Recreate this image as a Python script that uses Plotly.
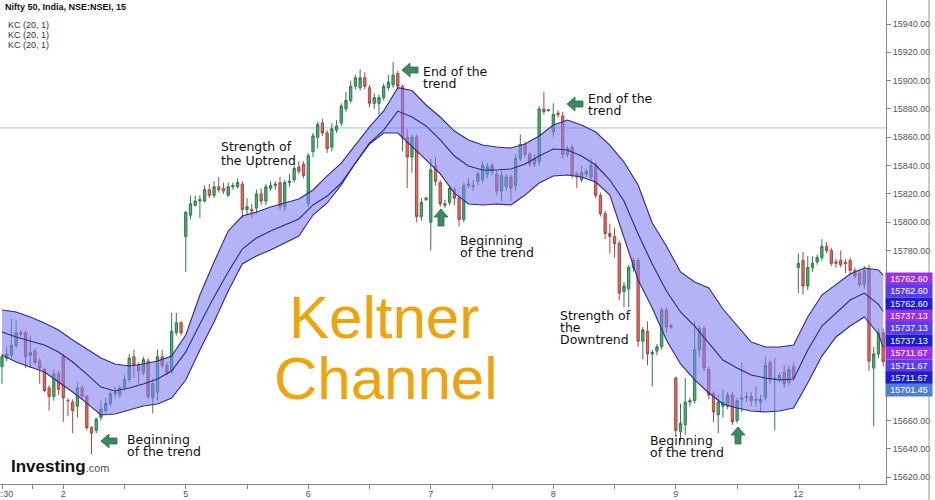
import plotly.graph_objects as go

# ---------------- data (15-min bars, NSE:NSEI) ----------------
day_labels = ["12:30", "", "2", "", "5", "", "6", "", "7", "", "8", "", "9", "", "12", ""]
day_ticks = [0, 6.5, 13, 26, 39, 52, 65, 78, 91, 104, 117, 130, 143, 156, 169, 182]

opens = [15698,15704,15706,15713,15722,15722,15706,15709,15702,15696,15683,15677,15693,15705,15674,15673,15670,15683,15677,15655,
         15653,15662,15667,15672,15679,15678,15683,15689,15705,15699,15694,15702,15676,15680,15705,15699,15695,15722,15729,15790,
         15805,15812,15815,15815,15823,15819,15825,15824,15819,15825,15825,15827,15809,15809,15810,15820,15815,15824,15826,15828,
         15811,15828,15830,15839,15841,15813,15850,15860,15870,15863,15853,15865,15870,15880,15886,15896,15895,15902,15895,15884,
         15884,15888,15895,15897,15905,15896,15860,15846,15860,15804,15816,15800,15840,15828,15812,15814,15823,15817,15802,15826,
         15826,15829,15830,15834,15836,15834,15822,15825,15832,15826,15845,15855,15848,15841,15843,15880,15879.5,15864,15877,15875,
         15848,15853,15834,15830,15836,15832,15840,15819,15806,15792,15790,15785,15751,15753,15768,15773,15716,15723,15707,15709,
         15712,15738,15727,15690,15652,15657,15673,15674,15710,15725,15696,15679,15664,15670,15670,15678,15660,15675,15676,15677,
         15674,15673,15676,15701,15689,15689,15694,15687,15698,15768,15773,15755,15768,15772,15775,15783,15780,15772,15773,15771.5,
         15773,15766,15764,15756,15767,15697,15707,15722]
highs = [15707,15712,15732,15731,15724,15724,15720,15711,15704,15697,15685,15696,15695,15707,15676,15675,15687,15685,15678,15656,
         15662,15674,15676,15681,15684,15685,15692,15707,15710,15701,15705,15704,15690,15710,15710,15701,15736,15736,15730,15808,
         15819,15819,15819,15826,15827,15829,15832,15828,15828,15828,15831,15829,15817,15813,15823,15824,15827,15829,15829,15832,
         15830,15834,15840,15843,15843,15849,15863,15871,15873,15865,15870,15872,15884,15892,15900,15904,15908,15906,15897,15891,
         15890,15898,15904,15913,15907,15897,15866,15862,15862,15817,15818,15845,15846,15830,15816,15826,15825,15819,15828,15831,
         15830,15836,15843,15842,15842,15836,15836,15834,15834,15848,15862,15857,15850,15848,15882,15892,15880,15884,15879,15878,
         15854,15855,15836,15840,15838,15845,15842,15821,15808,15799,15796,15787,15758,15770,15775,15775,15726,15730,15710,15714,
         15740,15740,15728,15691,15672,15690,15676,15730,15727,15727,15698,15681,15678,15682,15680,15680,15676,15701,15680,15680,
         15684,15678,15705,15703,15704,15694,15699,15699,15701,15778,15779,15776,15776,15777,15788,15786,15782,15774,15780,15774,
         15775,15768,15766,15769,15770,15712,15725,15725]
lows = [15686,15702,15704,15711,15719,15697,15697,15699,15686,15680,15667,15674,15678,15659,15663,15651,15662,15675,15653,15636,
        15651,15660,15665,15670,15676,15676,15681,15687,15690,15686,15692,15675,15665,15674,15697,15692,15693,15720,15720,15765,
        15802,15811,15803,15814,15817,15817,15821,15820,15818,15823,15824,15803,15805,15803,15806,15812,15812,15822,15823,15809,
        15808,15825,15828,15834,15831,15811,15846,15852,15861,15849,15850,15863,15868,15878,15884,15894,15893,15894,15881,15880,
        15876,15886,15893,15895,15894,15850,15824,15835,15800,15801,15815,15780,15826,15811,15810,15812,15812,15797,15800,15824,
        15822,15826,15828,15831,15833,15819,15815,15822,15815,15822,15843,15846,15839,15839,15840,15876,15878,15860,15874,15845,
        15846,15831,15824,15828,15832,15830,15817,15804,15788,15778,15775,15745,15740,15740,15765,15712,15703,15699,15684,15706,
        15710,15722,15725,15649,15645,15650,15670,15672,15705,15695,15675,15659,15651,15662,15668,15657,15658,15666,15673,15670,
        15670,15666,15674,15686,15653,15687,15683,15685,15688,15750,15749,15752,15765,15770,15773,15778,15769,15768,15768,15764,
        15763,15760,15754,15753,15695,15656,15704,15698]
closes = [15705,15707,15713,15722,15721,15705,15708,15701,15697,15681,15677,15693,15682,15676,15674,15667,15683,15677,15655,15651,
          15661,15668,15672,15679,15680,15683,15689,15704,15699,15695,15703,15677,15686,15705,15699,15694,15723,15729,15722,15807,
          15813,15815,15816,15823,15819,15825,15823,15822,15825,15826,15828,15809,15811,15808,15820,15815,15825,15826,15827,15811,
          15828,15829,15838,15836,15833,15847,15861,15869,15863,15852,15866,15868,15882,15886,15896,15902,15902,15896,15884,15888,
          15888,15896,15899,15904,15896,15860,15846,15860,15804,15814,15817,15837,15829,15813,15813,15824,15817,15802,15826,15827,
          15825,15834,15840,15839,15840,15822,15833,15832,15824,15845,15855,15848,15841,15845,15880,15878,15879,15876,15876,15848,
          15852,15833,15832,15835,15834,15840,15819,15806,15792,15790,15785,15750,15755,15768,15773,15716,15724,15707,15708,15712,
          15738,15726,15726,15653,15658,15673,15674,15710,15725,15697,15678,15666,15673,15673,15678,15659,15674,15676,15677,15674,
          15675,15675,15699,15689,15690,15692,15686,15696,15690,15771,15755,15768,15771,15775,15783,15780,15771,15771,15770,15771,
          15766,15762,15756,15766,15702,15707,15722,15701.45]
bars = list(range(len(closes)))

# Keltner Channel (20, 1) read every third bar, plus the last bar
kc_bars = list(range(0, 187, 3)) + [187]
kc_upper = [15738.0,15736.6,15733.1,15728.8,15723.9,15716.8,15710.5,15704.1,15699.9,15698.5,
            15699.9,15702.0,15705.5,15720.4,15748.6,15771.9,15793.8,15804.4,15807.2,15810.8,
            15813.6,15816.4,15822.8,15832.7,15841.8,15854.5,15867.3,15878.6,15895.0,15893.0,
            15882.8,15874.3,15864.4,15858.1,15854.5,15853.1,15852.4,15855.3,15860.9,15868.7,
            15872.2,15868.7,15863.7,15854.5,15842.5,15826.3,15799.5,15783.2,15764.9,15757.8,
            15753.6,15738.7,15726.7,15715.4,15711.9,15711.9,15713.3,15733.1,15748.6,15755.7,
            15763.4,15767.7,15766.3,15762.60]
kc_middle = [15722.5,15719.0,15716.1,15713.3,15708.4,15701.3,15692.8,15683.6,15680.8,15682.9,
             15685.8,15689.3,15694.9,15708.4,15728.1,15747.2,15764.9,15781.1,15788.9,15793.8,
             15798.1,15802.3,15812.2,15818.5,15827.7,15841.8,15856.0,15865.1,15878.5,15874.3,
             15868.0,15858.1,15846.8,15839.7,15836.9,15836.9,15837.6,15841.1,15846.8,15851.7,
             15851.0,15846.8,15840.4,15829.8,15815.0,15791.7,15770.5,15751.4,15736.6,15726.7,
             15714.7,15702.7,15697.1,15692.1,15690.0,15688.6,15689.3,15709.8,15726.7,15736.0,
             15745.1,15750.0,15742.0,15737.13]
kc_lower = [15706.2,15701.3,15697.8,15694.2,15687.2,15680.1,15672.3,15663.9,15664.6,15667.4,
            15670.2,15671.6,15675.9,15688.6,15709.8,15729.5,15751.4,15770.5,15776.2,15780.4,
            15785.3,15790.3,15805.1,15813.6,15826.3,15841.8,15855.3,15863.0,15863.0,15853.8,
            15844.0,15834.1,15820.6,15812.9,15812.2,15812.9,15812.2,15819.2,15827.7,15832.7,
            15833.4,15831.9,15828.4,15819.2,15789.6,15759.2,15739.4,15716.8,15699.9,15688.6,
            15679.4,15671.6,15668.8,15666.7,15666.0,15666.7,15668.8,15686.5,15705.5,15719.0,
            15726.7,15733.1,15721.1,15711.67]
h_line_price = 15866.6

notes = [("Beginning", 125, 439), ("of the trend", 125, 451),
         ("Strength of", 219, 147), ("the Uptrend", 219, 160),
         ("End of the", 421, 71), ("trend", 421, 84),
         ("Beginning", 458, 240), ("of the trend", 458, 252),
         ("End of the", 586, 98), ("trend", 586, 111),
         ("Strength of", 558, 315), ("the", 558, 327), ("Downtrend", 558, 339),
         ("Beginning", 648, 440), ("of the trend", 648, 452)]
arrows = [("left", 109, 441), ("left", 410, 70), ("left", 575, 104),
          ("up", 441, 218), ("up", 738, 436)]

# ---------------- figure ----------------
W, H = 935, 500
ML, MR, MT, MB = 0, 49, 0, 16
PW, PH = W - ML - MR, H - MT - MB


def px(x):
    return x / PW


def py(y):
    return 1 - y / PH


band_line = dict(color="#2b2b8a", width=1.1)
fig = go.Figure()
fig.add_trace(go.Scatter(x=kc_bars, y=kc_lower, mode="lines", line=band_line, hoverinfo="skip"))
fig.add_trace(go.Scatter(x=kc_bars, y=kc_upper, mode="lines", line=band_line, fill="tonexty",
                         fillcolor="rgba(128,128,240,0.60)", hoverinfo="skip"))
fig.add_trace(go.Scatter(x=kc_bars, y=kc_middle, mode="lines", line=band_line, hoverinfo="skip"))
fig.add_trace(go.Candlestick(
    x=bars, open=opens, high=highs, low=lows, close=closes,
    increasing=dict(line=dict(color="#2f7a4e", width=1), fillcolor="#45b373"),
    decreasing=dict(line=dict(color="#a9473f", width=1), fillcolor="#e4695d"),
    whiskerwidth=0, hoverinfo="skip"))

shapes = [dict(type="line", xref="paper", yref="y", x0=0, x1=1, y0=h_line_price, y1=h_line_price,
               line=dict(color="#9dc3e6", width=1), layer="below"),
          dict(type="line", xref="paper", yref="paper", x0=px(929), x1=px(929), y0=py(0), y1=py(H),
               line=dict(color="#999999", width=1))]

ARROW_C = "#3a8a5e"
for kind, cx, cy in arrows:
    if kind == "left":
        pts = [(cx - 8, cy), (cx, cy - 7), (cx, cy - 3), (cx + 8, cy - 3), (cx + 8, cy + 3), (cx, cy + 3), (cx, cy + 7)]
    else:
        pts = [(cx, cy - 9), (cx - 7, cy - 1), (cx - 3, cy - 1), (cx - 3, cy + 8), (cx + 3, cy + 8), (cx + 3, cy - 1), (cx + 7, cy - 1)]
    path = "M " + " L ".join(f"{px(a):.5f},{py(b):.5f}" for a, b in pts) + " Z"
    shapes.append(dict(type="path", xref="paper", yref="paper", path=path,
                       fillcolor=ARROW_C, line=dict(color="#2d6e4a", width=0.8)))

ann = []
for t, x, y in notes:
    ann.append(dict(text=t, x=px(x), y=py(y), xref="paper", yref="paper", xanchor="left", yanchor="middle",
                    showarrow=False, font=dict(family="DejaVu Sans", size=12.5, color="#111111")))

ann.append(dict(text="Keltner", x=px(384), y=py(317), xref="paper", yref="paper", xanchor="center",
                yanchor="middle", showarrow=False, font=dict(family="Liberation Sans", size=60, color="#f0a30a")))
ann.append(dict(text="Channel", x=px(386), y=py(378), xref="paper", yref="paper", xanchor="center",
                yanchor="middle", showarrow=False, font=dict(family="Liberation Sans", size=60, color="#f0a30a")))

ann.append(dict(text="Nifty 50, India, NSE:NSEI, 15", x=px(3), y=py(7), xref="paper", yref="paper",
                xanchor="left", yanchor="middle", showarrow=False,
                font=dict(family="Liberation Sans", size=9, color="#111111", weight="bold")))
for i in range(3):
    ann.append(dict(text="KC (20, 1)", x=px(6), y=py(25 + 10 * i), xref="paper", yref="paper",
                    xanchor="left", yanchor="middle", showarrow=False,
                    font=dict(family="Liberation Sans", size=9, color="#333333")))

ann.append(dict(text="<b>Investing</b><span style='font-size:11px;color:#555'>.com</span>",
                x=px(9), y=py(466), xref="paper", yref="paper", xanchor="left", yanchor="middle",
                showarrow=False, font=dict(family="Liberation Sans", size=17, color="#111111")))

# last-value price labels on the right axis
label_vals = [kc_upper[-1]] * 3 + [kc_middle[-1]] * 3 + [kc_lower[-1]] * 3 + [closes[-1]]
label_cols = ["#9b30e6", "#5a3cf0", "#1c1cd6"] * 3 + ["#4f7fd2"]
for i, (v, c) in enumerate(zip(label_vals, label_cols)):
    ann.append(dict(text=f"{v:.2f}", x=px(885), y=py(271.7 + 12.4 * i), xref="paper", yref="paper",
                    xanchor="left", yanchor="top", showarrow=False, bgcolor=c, width=44, height=10,
                    borderpad=1, align="center", valign="middle",
                    font=dict(family="Liberation Sans", size=9, color="#ffffff")))

y_top = 15940 + 24 / 1.416
y_bot = 15940 - (PH - 24) / 1.416
x_left = (0 - 2) / 4.712
x_right = (PW - 2) / 4.712

fig.update_layout(
    width=W, height=H, margin=dict(l=ML, r=MR, t=MT, b=MB, autoexpand=False),
    paper_bgcolor="white", plot_bgcolor="white", showlegend=False, hovermode=False,
    shapes=shapes, annotations=ann,
    xaxis=dict(range=[x_left, x_right], tickvals=day_ticks, ticktext=day_labels,
               showgrid=False, zeroline=False, showline=True, linecolor="#8a8a8a", linewidth=1,
               ticks="outside", ticklen=4, tickcolor="#8a8a8a", ticklabelstandoff=-3,
               ticklabeloverflow="allow",
               tickfont=dict(family="Liberation Sans", size=9, color="#555555"),
               rangeslider=dict(visible=False)),
    yaxis=dict(range=[y_bot, y_top], side="right", tick0=15620, dtick=20, tickformat=".2f",
               showgrid=False, zeroline=False, showline=True, linecolor="#8a8a8a", linewidth=1,
               ticks="outside", ticklen=4, tickcolor="#8a8a8a",
               tickfont=dict(family="Liberation Sans", size=9, color="#555555")),
)

fig.write_html("out.html", config={"displayModeBar": False, "staticPlot": True},
               post_script="document.body.style.margin='0';document.body.style.overflow='hidden';")
